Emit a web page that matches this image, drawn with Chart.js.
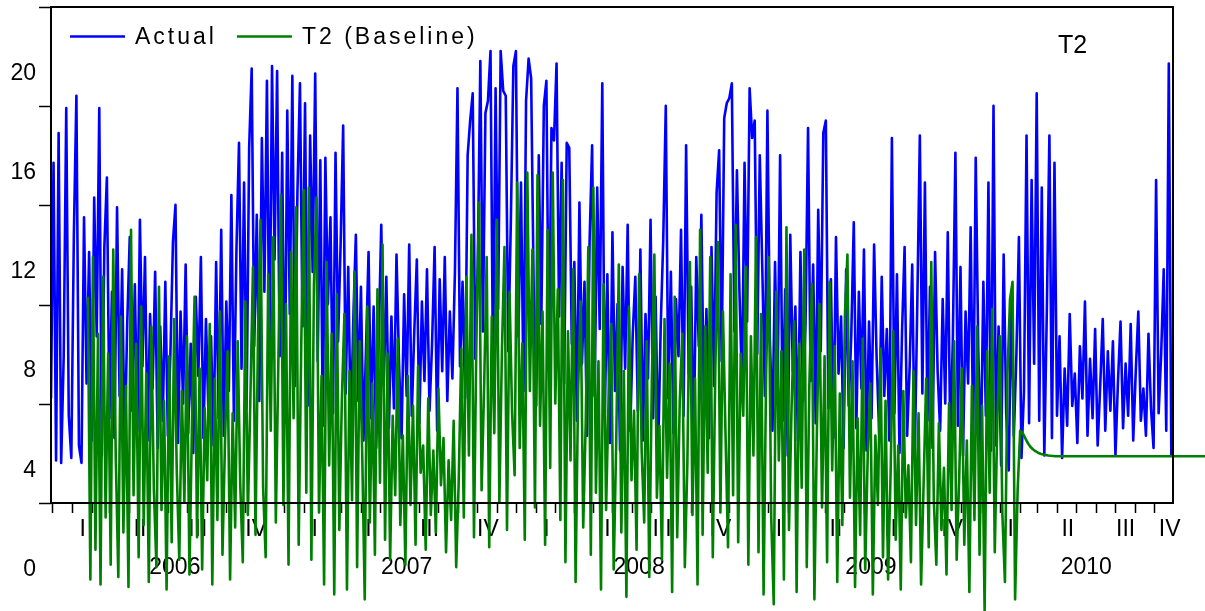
<!DOCTYPE html>
<html>
<head>
<meta charset="utf-8">
<title>T2 - Actual vs Baseline</title>
<script src="https://cdn.jsdelivr.net/npm/chart.js@4.4.1/dist/chart.umd.min.js"></script>
<style>
    html, body { margin: 0; padding: 0; background: #ffffff; }
    canvas { display: block; }
</style>
</head>
<body>
<canvas id="t2Chart" width="1205" height="611"></canvas>
<script>
// Days are counted from 1 Jan 2006; one reading every 4 days
const stepDays = 4;
const actualStartDay = -33;
const baselineStartDay = 25;

const actual = [
    6.9, 16.4, 4.4, 17.6, 4.3, 8.6, 18.6, 6.2, 4.5, 13.5,
    19.1, 5.0, 4.3, 14.2, 7.5, 12.8, 5.2, 15.0, 9.4, 18.6,
    4.6, 13.0, 15.8, 6.1, 11.2, 5.3, 14.6, 7.0, 12.1, 4.8,
    9.9, 13.4, 6.4, 11.5, 5.6, 14.1, 8.2, 12.6, 5.2, 10.3,
    7.3, 12.0, 4.9, 9.8, 6.0, 11.6, 5.4, 8.7, 13.2, 14.7,
    5.1, 10.4, 6.7, 12.3, 5.5, 9.1, 4.7, 11.0, 7.8, 12.6,
    5.3, 10.1, 6.2, 9.4, 5.0, 12.4, 6.1, 13.7, 5.4, 10.8,
    7.2, 15.1, 6.0, 12.9, 17.2, 8.1, 15.6, 6.5, 17.0, 20.2,
    9.0, 14.3, 6.8, 17.4, 11.2, 19.7, 7.9, 20.3, 12.5, 20.1,
    8.6, 16.8, 5.9, 18.5, 10.3, 19.9, 7.4, 15.2, 19.6, 9.8,
    18.8, 6.6, 17.5, 12.0, 20.0, 8.4, 16.5, 5.8, 16.6, 10.7,
    14.2, 6.3, 16.8, 9.2, 13.1, 17.9, 7.1, 12.2, 5.6, 10.1,
    13.5, 6.8, 11.4, 5.2, 8.9, 12.8, 6.1, 10.6, 4.9, 9.3,
    13.9, 7.4, 11.8, 5.7, 10.2, 6.5, 12.7, 8.3, 5.3, 11.1,
    7.0, 13.1, 6.2, 9.6, 12.5, 5.9, 10.8, 7.6, 12.1, 6.4,
    9.1, 13.0, 5.6, 11.7, 8.0, 12.6, 6.8, 10.4, 7.7, 12.0,
    19.4, 8.2, 11.6, 6.9, 16.7, 18.1, 19.2, 8.5, 12.3, 20.5,
    9.6, 18.4, 18.9, 20.9, 7.8, 19.4, 10.5, 20.9, 19.3, 19.1,
    8.8, 14.0, 20.3, 20.9, 9.4, 15.6, 7.2, 18.9, 20.6, 19.8,
    11.3, 6.6, 16.7, 9.9, 18.7, 19.7, 8.1, 17.8, 17.3, 20.4,
    10.2, 16.4, 7.5, 17.2, 17.0, 9.1, 12.4, 6.0, 14.8, 8.3,
    11.6, 5.4, 13.2, 17.1, 7.0, 15.4, 9.7, 19.6, 6.3, 11.9,
    5.1, 13.6, 7.2, 10.7, 4.8, 12.2, 8.1, 13.9, 5.6, 9.5,
    11.8, 6.4, 12.9, 5.2, 10.3, 7.7, 14.1, 6.1, 11.0, 4.7,
    9.8, 13.3, 18.7, 6.9, 12.0, 5.5, 10.9, 8.6, 13.7, 6.2,
    17.1, 7.9, 11.4, 5.0, 12.6, 9.0, 14.3, 6.6, 10.5, 5.3,
    13.0, 7.4, 15.2, 16.9, 8.4, 18.2, 18.8, 19.0, 19.6, 9.6,
    16.1, 11.2, 7.3, 16.4, 10.0, 19.4, 17.4, 18.1, 8.7, 16.7,
    12.1, 7.0, 18.5, 9.2, 5.6, 12.4, 7.1, 16.7, 6.0, 11.3,
    4.6, 13.5, 8.0, 10.6, 5.2, 12.8, 6.8, 9.9, 17.8, 7.6,
    12.3, 5.9, 14.5, 8.8, 17.6, 18.1, 6.5, 11.7, 5.3, 13.4,
    7.9, 10.2, 4.9, 12.1, 6.6, 9.4, 14.0, 5.7, 11.2, 7.3,
    12.9, 4.8, 10.0, 6.1, 13.1, 8.5, 5.5, 11.8, 7.0, 9.7,
    5.2, 17.4, 6.3, 11.9, 4.7, 9.6, 13.0, 5.4, 8.2, 12.3,
    4.5, 10.7, 17.5, 7.1, 15.6, 6.0, 11.4, 4.9, 12.8, 8.0,
    5.6, 10.9, 6.7, 13.6, 5.1, 9.3, 16.8, 5.8, 12.2, 4.6,
    10.4, 7.5, 13.8, 5.3, 16.6, 8.9, 4.4, 11.6, 6.2, 15.6,
    4.8, 18.7, 5.0, 9.8, 4.2, 12.7, 6.3, 4.0, 11.1, 5.4,
    8.6, 13.4, 4.5, 7.2, 17.5, 5.9, 15.7, 8.3, 19.2, 6.0,
    15.4, 4.6, 10.5, 17.5, 5.3, 16.4, 6.2, 9.4, 4.5, 8.1,
    5.8, 10.3, 6.6, 7.9, 5.1, 9.0, 6.9, 10.8, 5.4, 8.5,
    6.1, 9.7, 5.0, 7.4, 10.1, 5.6, 8.8, 6.4, 9.2, 4.6,
    7.6, 10.0, 5.7, 8.3, 6.2, 9.9, 5.2, 8.0, 10.4, 6.0,
    7.3, 5.4, 9.5, 6.5, 4.9, 15.7, 6.3, 8.7, 12.1, 5.6,
    20.4, 4.6
];

const baseline = [
    11.0, -0.4, 12.6, 0.8, 9.5, -0.6, 11.8, 2.1, 8.7, 0.2,
    12.9, 4.5, -0.3, 10.2, 1.5, 7.4, -0.7, 13.7, 3.0, 9.1,
    0.5, 10.6, 1.8, 7.9, -0.5, 9.8, 3.2, 0.1, 11.4, 2.4,
    6.8, -0.8, 8.6, 1.1, 10.1, 4.0, 0.4, 7.2, 2.7, 9.4,
    -0.2, 5.9, 11.0, 1.3, 8.1, 0.0, 6.5, 3.6, 9.9, -0.6,
    7.7, 2.0, 10.4, 0.6, 5.2, 8.8, -0.4, 6.3, 1.7, 9.2,
    3.4, 0.3, 10.8, 2.2, 7.0, 12.2, 1.4, 9.6, 14.1, 3.3,
    0.5, 11.9, 5.6, 13.4, 1.9, 8.4, 15.1, 2.6, 10.7, 0.2,
    12.8, 6.1, 14.6, 1.0, 9.0, 15.3, 3.1, 15.4, 0.4, 11.5,
    15.0, 2.3, 7.8, -0.6, 12.4, 4.2, 9.5, -1.0, 11.1, 1.6,
    6.9, 10.3, -0.8, 8.0, 2.8, 12.0, 0.1, 9.2, 4.7, -1.2,
    10.6, 1.9, 7.5, 0.6, 11.3, 3.5, 13.1, 1.2, 8.7, 0.4,
    6.2, 3.0, 9.3, 1.8, 5.4, 0.2, 7.8, 2.6, 6.6, 1.0,
    8.2, 3.9, 5.0, 0.8, 6.9, 2.2, 4.8, 1.5, 7.3, 3.4,
    5.3, 0.7, 4.4, 2.0, 6.0, 0.1, 3.6, 8.9, 2.1, 11.8,
    4.6, 13.5, 1.3, 9.7, 14.8, 3.2, 7.4, 12.6, 0.9, 10.2,
    5.5, 14.1, 2.7, 8.8, 13.0, 1.6, 11.2, 6.3, 3.8, 15.6,
    4.9, 9.1, 1.2, 16.0, 7.2, 12.9, 2.5, 15.9, 5.8, 10.4,
    1.0, 13.7, 4.1, 16.0, 6.7, 11.3, 2.0, 15.7, 0.3, 9.6,
    4.4, 12.1, -0.5, 7.3, 10.8, 1.7, 6.0, 13.0, 0.6, 15.4,
    3.1, 8.4, -0.8, 11.5, 2.4, 7.0, 9.9, 0.0, 5.2, 12.3,
    1.5, 8.0, -1.1, 10.6, 3.6, 6.4, 0.8, 11.9, 4.8, 1.9,
    9.2, -0.3, 7.6, 12.7, 2.9, 5.8, 0.4, 10.1, 3.7, 8.3,
    -0.9, 11.0, 1.3, 6.8, 9.5, 0.1, 4.3, 12.4, 2.2, 7.7,
    -0.6, 13.7, 1.4, 9.8, 3.9, 12.6, 0.5, 8.1, 13.2, 2.3,
    10.4, 5.5, 0.9, 11.9, 3.0, 13.9, 1.1, 8.7, 6.2, 12.2,
    0.2, 9.4, 4.6, 13.4, 0.7, 10.3, -1.0, 7.9, 12.6, 2.1,
    -1.4, 11.2, 4.4, 8.8, -0.4, 13.8, 1.6, 6.5, 10.0, -0.9,
    9.1, 3.3, 12.9, 0.1, 7.4, 11.5, -1.2, 5.7, 10.7, 2.5,
    8.6, 0.3, 11.6, 4.0, 9.0, -0.5, 7.1, 1.8, 10.2, 12.7,
    2.9, 8.4, -0.7, 6.1, 1.4, 9.3, 0.0, 4.7, 7.5, -1.0,
    5.4, 2.6, 8.9, 0.5, 6.8, -0.4, 3.9, 9.6, 1.2, 5.0,
    -0.8, 7.2, 2.1, 4.2, 0.3, 8.0, 1.8, 6.3, -0.6, 3.5,
    7.7, 0.9, 12.4, 2.8, 0.2, 5.9, 1.6, 4.1, -0.2, 6.7,
    2.4, 9.2, 0.4, 3.7, 8.1, 1.0, 5.2, -0.9, 7.4, 2.0,
    9.8, 0.6, 6.6, -1.7, 8.8, 3.1, 10.5, 0.7, 6.0, 9.4,
    2.2, -0.5, 7.9, 10.9, 11.6, -1.2, 3.2, 5.6, 5.5, 5.3,
    5.1, 4.95, 4.85, 4.77, 4.71, 4.67, 4.64, 4.62, 4.6, 4.59,
    4.58
];
// baseline stays flat after the last step
const baselineTailDays = [1549, 1784];
const baselineTailValues = [4.57, 4.57];

const yTicks = [0, 4, 8, 12, 16, 20];
const years = [2006, 2007, 2008, 2009, 2010];
const quarterLabels = ['I', 'II', 'III', 'IV'];
const seriesNames = ['Actual', 'T2 (Baseline)'];
const chartTitle = 'T2';

const FONT = '"Liberation Sans", Arial, sans-serif';
const BLUE = '#0000ff';
const GREEN = '#008000';

// frame of the plot, in data units
const frameStartDay = -33;
const frameEndDay = 1733;
const frameBottom = 2.68;
const frameTop = 22.68;

function dayOf(y, m, d) {
    return (Date.UTC(y, m, d || 1) - Date.UTC(2006, 0, 1)) / 86400000;
}

const actualPoints = actual.map((v, i) => ({ x: actualStartDay + i * stepDays, y: v }));
const baselinePoints = baseline.map((v, i) => ({ x: baselineStartDay + i * stepDays, y: v }))
    .concat(baselineTailDays.map((d, i) => ({ x: d, y: baselineTailValues[i] })));

// Axis ticks and date labels, drawn under the lines
const dateAxis = {
    id: 'dateAxis',
    beforeDatasetsDraw(chart) {
        const { ctx, scales: { x, y } } = chart;
        const left = x.getPixelForValue(frameStartDay);
        const right = x.getPixelForValue(frameEndDay);
        const bottom = y.getPixelForValue(frameBottom);

        ctx.save();
        ctx.strokeStyle = '#000';
        ctx.lineWidth = 1.5;

        // monthly ticks
        ctx.beginPath();
        for (let yr = 2005; yr <= 2010; yr++) {
            for (let m = 0; m < 12; m++) {
                const d = dayOf(yr, m, 1);
                if (d < frameStartDay || d > frameEndDay) continue;
                const px = Math.round(x.getPixelForValue(d)) + 0.5;
                ctx.moveTo(px, bottom);
                ctx.lineTo(px, bottom + 10);
            }
        }
        // left ticks
        for (let v = frameBottom; v <= frameTop + 0.01; v += 4) {
            const py = Math.round(y.getPixelForValue(v)) + 0.5;
            ctx.moveTo(left - 12, py);
            ctx.lineTo(left, py);
        }
        ctx.stroke();

        ctx.fillStyle = '#000';
        ctx.font = '23px ' + FONT;
        ctx.textAlign = 'center';
        ctx.textBaseline = 'middle';
        years.forEach(yr => {
            quarterLabels.forEach((q, i) => {
                const d = dayOf(yr, i * 3, 1);
                if (d > frameEndDay + 1) return;
                const px = Math.min(x.getPixelForValue(d + 17), right - 3);
                ctx.fillText(q, px, bottom + 27);
            });
            const start = x.getPixelForValue(dayOf(yr, 0, 1));
            const end = Math.min(x.getPixelForValue(dayOf(yr + 1, 0, 1)), right);
            const mid = Math.min(x.getPixelForValue(dayOf(yr, 5, 12)), (start + end) / 2);
            ctx.fillText(String(yr), mid, bottom + 65);
        });
        ctx.restore();
    },
    afterDatasetsDraw(chart) {
        const { ctx, scales: { x, y } } = chart;
        const left = Math.round(x.getPixelForValue(frameStartDay));
        const right = Math.round(x.getPixelForValue(frameEndDay));
        const top = Math.round(y.getPixelForValue(frameTop));
        const bottom = Math.round(y.getPixelForValue(frameBottom));
        ctx.save();
        ctx.strokeStyle = '#000';
        ctx.lineWidth = 2;
        ctx.strokeRect(left, top, right - left, bottom - top);
        ctx.restore();
    },
    afterDraw(chart) {
        const { ctx } = chart;
        ctx.save();
        ctx.font = '23px ' + FONT;
        ctx.textBaseline = 'alphabetic';
        ctx.letterSpacing = '3px';
        let lx = 70;
        [BLUE, GREEN].forEach((c, i) => {
            ctx.strokeStyle = c;
            ctx.lineWidth = 2.5;
            ctx.beginPath();
            ctx.moveTo(lx, 36.5);
            ctx.lineTo(lx + 55, 36.5);
            ctx.stroke();
            ctx.fillStyle = '#000';
            ctx.fillText(seriesNames[i], lx + 65, 44);
            lx += 65 + ctx.measureText(seriesNames[i]).width + 20;
        });
        ctx.letterSpacing = '0px';
        ctx.font = '25px ' + FONT;
        ctx.fillText(chartTitle, 1058, 53);
        ctx.restore();
    }
};

const chart = new Chart(document.getElementById('t2Chart'), {
    type: 'line',
    data: {
        datasets: [{
            label: seriesNames[0],
            data: actualPoints,
            borderColor: BLUE,
            borderWidth: 2.6,
            pointRadius: 0,
            borderJoinStyle: 'round',
            order: 1
        }, {
            label: seriesNames[1],
            data: baselinePoints,
            borderColor: GREEN,
            borderWidth: 2.6,
            pointRadius: 0,
            borderJoinStyle: 'round',
            order: 0
        }]
    },
    options: {
        responsive: false,
        animation: false,
        layout: { padding: 0 },
        plugins: {
            legend: { display: false },
            tooltip: { enabled: false }
        },
        scales: {
            x: {
                type: 'linear',
                min: -33,
                max: 1784,
                display: false
            },
            y: {
                min: -1.67,
                max: 22.96,
                afterBuildTicks: s => { s.ticks = yTicks.map(v => ({ value: v })); },
                afterFit: s => {
                    s.width = 51;
                    s.paddingTop = 0;
                    s.paddingBottom = 0;
                },
                grid: { display: false, drawTicks: false },
                border: { display: false },
                ticks: {
                    color: '#000',
                    padding: 15,
                    font: { size: 23, family: FONT }
                }
            }
        }
    },
    plugins: [dateAxis]
});
</script>
</body>
</html>
